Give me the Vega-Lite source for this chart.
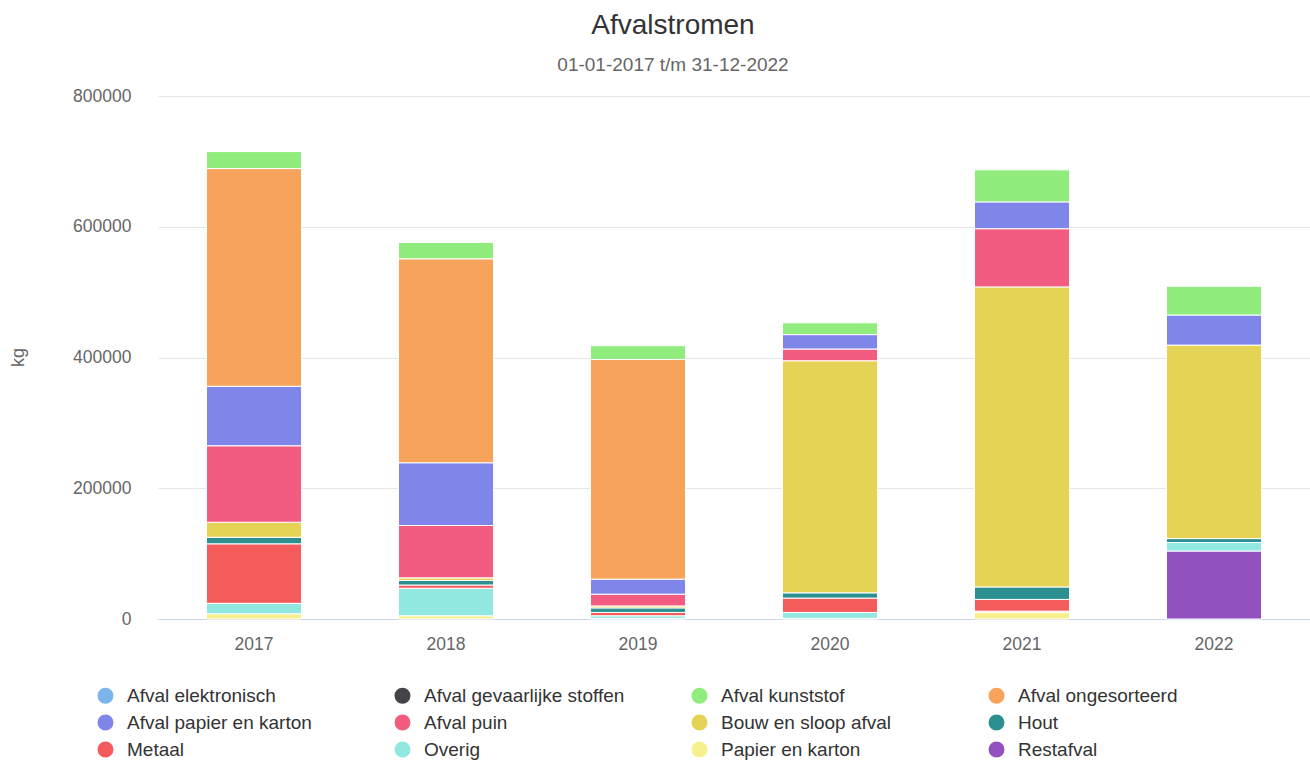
{
  "$schema": "https://vega.github.io/schema/vega-lite/v6.json",
  "autosize": {"type": "none"},
  "width": 1152,
  "height": 523,
  "padding": {"left": 158, "top": 96, "right": 0, "bottom": 143},
  "background": "#ffffff",
  "config": {
    "font": "Liberation Sans",
    "view": {"stroke": null}
  },
  "title": {
    "text": "Afvalstromen",
    "subtitle": "01-01-2017 t/m 31-12-2022",
    "anchor": "middle",
    "frame": "group",
    "dx": -61,
    "offset": 12,
    "fontSize": 28,
    "fontWeight": "normal",
    "color": "#333333",
    "subtitleFontSize": 19,
    "subtitleColor": "#666666",
    "subtitlePadding": 16
  },
  "data": {
    "values": [
      {"jaar": "2017", "soort": "Papier en karton", "kg": 8000},
      {"jaar": "2017", "soort": "Overig", "kg": 16000},
      {"jaar": "2017", "soort": "Metaal", "kg": 91000},
      {"jaar": "2017", "soort": "Hout", "kg": 10000},
      {"jaar": "2017", "soort": "Bouw en sloop afval", "kg": 23000},
      {"jaar": "2017", "soort": "Afval puin", "kg": 117000},
      {"jaar": "2017", "soort": "Afval papier en karton", "kg": 91000},
      {"jaar": "2017", "soort": "Afval ongesorteerd", "kg": 333000},
      {"jaar": "2017", "soort": "Afval kunststof", "kg": 26000},

      {"jaar": "2018", "soort": "Papier en karton", "kg": 5000},
      {"jaar": "2018", "soort": "Overig", "kg": 42000},
      {"jaar": "2018", "soort": "Metaal", "kg": 5000},
      {"jaar": "2018", "soort": "Hout", "kg": 7000},
      {"jaar": "2018", "soort": "Bouw en sloop afval", "kg": 4000},
      {"jaar": "2018", "soort": "Afval puin", "kg": 80000},
      {"jaar": "2018", "soort": "Afval papier en karton", "kg": 96000},
      {"jaar": "2018", "soort": "Afval ongesorteerd", "kg": 312000},
      {"jaar": "2018", "soort": "Afval kunststof", "kg": 25000},

      {"jaar": "2019", "soort": "Papier en karton", "kg": 1000},
      {"jaar": "2019", "soort": "Overig", "kg": 4000},
      {"jaar": "2019", "soort": "Metaal", "kg": 5000},
      {"jaar": "2019", "soort": "Hout", "kg": 7000},
      {"jaar": "2019", "soort": "Bouw en sloop afval", "kg": 3000},
      {"jaar": "2019", "soort": "Afval puin", "kg": 18000},
      {"jaar": "2019", "soort": "Afval papier en karton", "kg": 23000},
      {"jaar": "2019", "soort": "Afval ongesorteerd", "kg": 336000},
      {"jaar": "2019", "soort": "Afval kunststof", "kg": 21000},

      {"jaar": "2020", "soort": "Papier en karton", "kg": 1000},
      {"jaar": "2020", "soort": "Overig", "kg": 9000},
      {"jaar": "2020", "soort": "Metaal", "kg": 22000},
      {"jaar": "2020", "soort": "Hout", "kg": 8000},
      {"jaar": "2020", "soort": "Bouw en sloop afval", "kg": 355000},
      {"jaar": "2020", "soort": "Afval puin", "kg": 18000},
      {"jaar": "2020", "soort": "Afval papier en karton", "kg": 22000},
      {"jaar": "2020", "soort": "Afval kunststof", "kg": 18000},

      {"jaar": "2021", "soort": "Papier en karton", "kg": 10000},
      {"jaar": "2021", "soort": "Overig", "kg": 2000},
      {"jaar": "2021", "soort": "Metaal", "kg": 18000},
      {"jaar": "2021", "soort": "Hout", "kg": 19000},
      {"jaar": "2021", "soort": "Bouw en sloop afval", "kg": 459000},
      {"jaar": "2021", "soort": "Afval puin", "kg": 89000},
      {"jaar": "2021", "soort": "Afval papier en karton", "kg": 41000},
      {"jaar": "2021", "soort": "Afval kunststof", "kg": 49000},

      {"jaar": "2022", "soort": "Restafval", "kg": 104000},
      {"jaar": "2022", "soort": "Overig", "kg": 13000},
      {"jaar": "2022", "soort": "Hout", "kg": 6000},
      {"jaar": "2022", "soort": "Bouw en sloop afval", "kg": 296000},
      {"jaar": "2022", "soort": "Afval papier en karton", "kg": 46000},
      {"jaar": "2022", "soort": "Afval kunststof", "kg": 44000}
    ]
  },
  "mark": {"type": "bar", "stroke": "#ffffff", "strokeWidth": 1},
  "encoding": {
    "x": {
      "field": "jaar",
      "type": "ordinal",
      "scale": {"paddingInner": 0.505, "paddingOuter": 0.2525},
      "axis": {
        "title": null,
        "labelAngle": 0,
        "labelFontSize": 17.5,
        "labelColor": "#666666",
        "labelPadding": 16,
        "ticks": false,
        "tickSize": 0,
        "domainColor": "#ccd6eb",
        "domainWidth": 1
      }
    },
    "y": {
      "field": "kg",
      "type": "quantitative",
      "aggregate": "sum",
      "stack": "zero",
      "scale": {"domain": [0, 800000], "nice": false},
      "axis": {
        "title": "kg",
        "titleFontSize": 18,
        "titleFontWeight": "normal",
        "titleColor": "#666666",
        "titleAngle": -90,
        "titleX": -140,
        "titleY": 261,
        "titleAlign": "center",
        "titleBaseline": "middle",
        "values": [0, 200000, 400000, 600000, 800000],
        "format": "d",
        "labelFontSize": 17.5,
        "labelColor": "#666666",
        "labelPadding": 27,
        "ticks": false,
        "tickSize": 0,
        "domain": false,
        "gridColor": "#e6e6e6",
        "gridWidth": 1
      }
    },
    "color": {
      "field": "soort",
      "type": "nominal",
      "scale": {
        "domain": [
          "Afval elektronisch", "Afval gevaarlijke stoffen", "Afval kunststof", "Afval ongesorteerd",
          "Afval papier en karton", "Afval puin", "Bouw en sloop afval", "Hout",
          "Metaal", "Overig", "Papier en karton", "Restafval"
        ],
        "range": [
          "#7cb5ec", "#434348", "#90ed7d", "#f7a35c",
          "#8085e9", "#f15c80", "#e4d354", "#2b908f",
          "#f45b5b", "#91e8e1", "#f6f18c", "#9351c0"
        ]
      },
      "legend": {
        "title": null,
        "orient": "none",
        "direction": "horizontal",
        "legendX": -62,
        "legendY": 590,
        "columns": 4,
        "gridAlign": "all",
        "columnPadding": 65,
        "rowPadding": 7,
        "symbolType": "circle",
        "symbolSize": 254,
        "symbolStrokeWidth": 0,
        "symbolOpacity": 1,
        "labelFontSize": 19,
        "labelColor": "#333333",
        "labelOffset": 12,
        "labelLimit": 400
      }
    },
    "order": {"field": "soort", "sort": "descending"}
  }
}
